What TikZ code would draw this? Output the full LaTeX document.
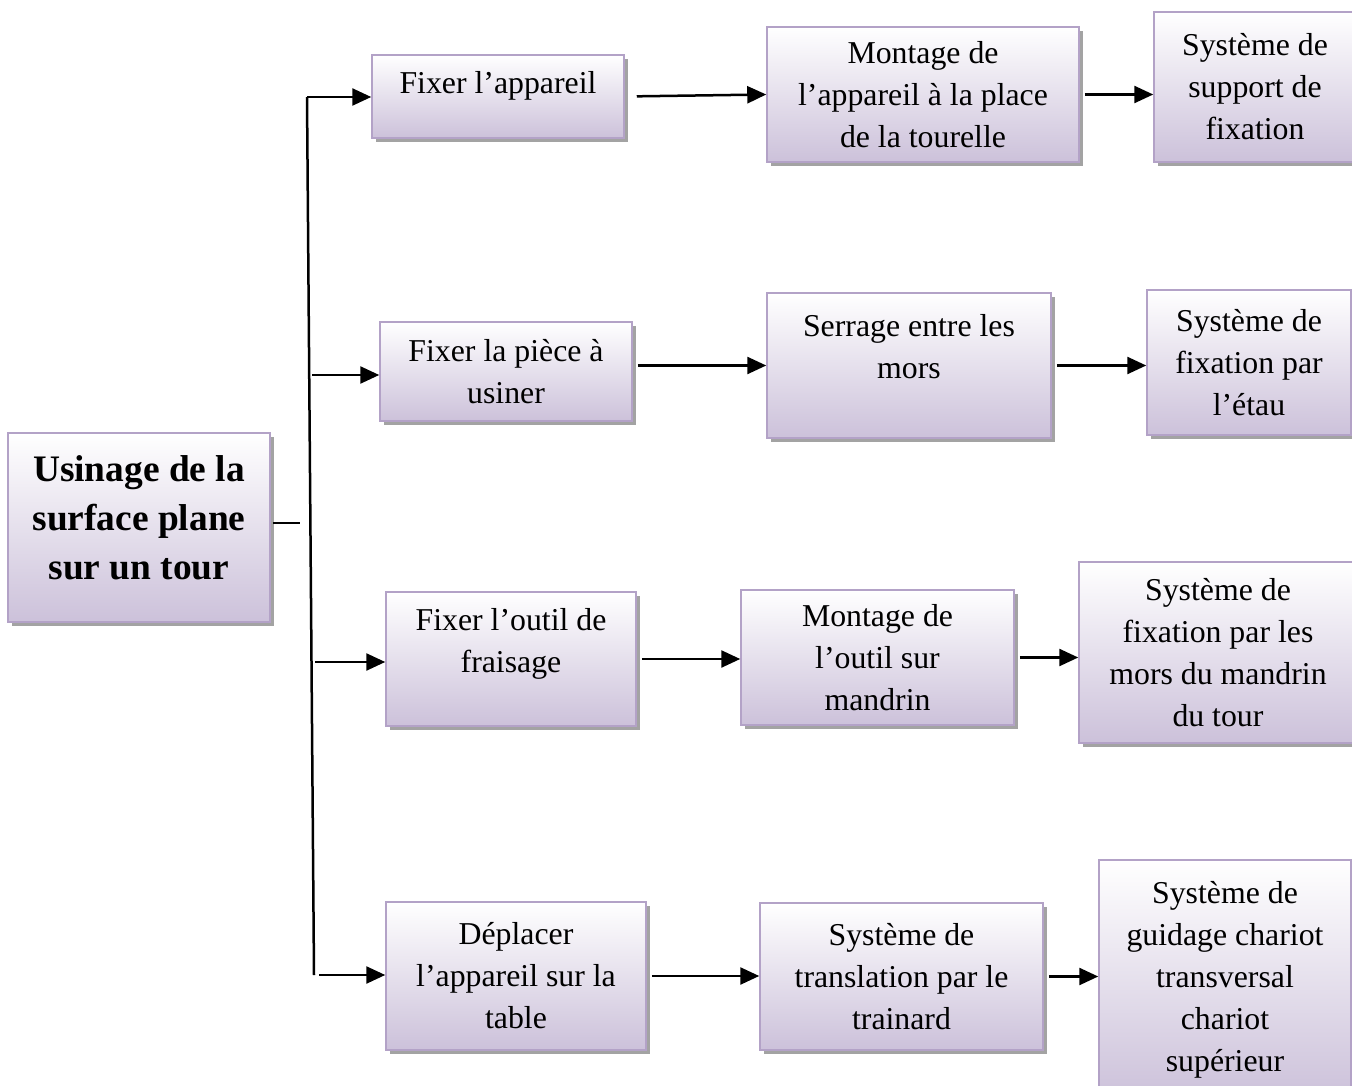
\documentclass[tikz,border=0pt]{standalone}
\usepackage{fontspec}
\setmainfont{Liberation Serif}
\usepackage{tikz}
\usetikzlibrary{arrows.meta,shadows}
\definecolor{boxline}{HTML}{B3A2C7}
\definecolor{boxfill}{HTML}{CCC1DA}

\begin{document}
\begin{tikzpicture}[x=1pt, y=-1pt,
    box/.style={draw=boxline, line width=1.5pt, top color=white, bottom color=boxfill,
      drop shadow={shadow xshift=4pt, shadow yshift=-4pt, fill=black!40, opacity=0.9},
      align=center, inner sep=0pt, font=\fontsize{31.8}{42}\selectfont},
    wire/.style={line width=2.5pt},
    arr/.style={wire, -{Triangle[length=19pt,width=17pt]}, shorten <=5pt}]
    \useasboundingbox (0,0) rectangle (1352,1086);
    % main task
    \node[box, minimum width=262pt, minimum height=189pt,
      font=\bfseries\fontsize{37.4}{49}\selectfont] (main) at (139,527.5)
      {Usinage de la\\surface plane\\sur un tour\\[-29pt]\mbox{}};
    % functions
    \node[box, minimum width=252pt, minimum height=83pt] (f1) at (498,96.5)
      {Fixer l’appareil\\[-13pt]\mbox{}};
    \node[box, minimum width=252pt, minimum height=99pt] (f2) at (506,371.5)
      {Fixer la pièce à\\usiner};
    \node[box, minimum width=250pt, minimum height=134pt] (f3) at (511,659)
      {Fixer l’outil de\\fraisage\\[-5pt]\mbox{}};
    \node[box, minimum width=260pt, minimum height=148pt] (f4) at (516,976)
      {Déplacer\\l’appareil sur la\\table};
    % solutions
    \node[box, minimum width=312pt, minimum height=135pt] (s1) at (923,94.5)
      {Montage de\\l’appareil à la place\\de la tourelle};
    \node[box, minimum width=284pt, minimum height=145pt] (s2) at (909,365.5)
      {Serrage entre les\\mors\\[-4pt]\mbox{}};
    \node[box, minimum width=273pt, minimum height=135pt] (s3) at (877.5,657.5)
      {Montage de\\l’outil sur\\mandrin};
    \node[box, minimum width=283pt, minimum height=147pt] (s4) at (901.5,976.5)
      {Système de\\translation par le\\trainard};
    % systems
    \node[box, minimum width=202pt, minimum height=150pt] (m1) at (1255,87)
      {Système de\\support de\\fixation};
    \node[box, minimum width=204pt, minimum height=145pt] (m2) at (1249,362.5)
      {Système de\\fixation par\\l’étau};
    \node[box, minimum width=278pt, minimum height=181pt] (m3) at (1218,652.5)
      {Système de\\fixation par les\\mors du mandrin\\du tour};
    \node[box, minimum width=252pt, minimum height=240pt] (m4) at (1225,980)
      {Système de\\guidage chariot\\transversal\\chariot\\supérieur};
    % trunk
    \coordinate (stub) at (300,523);
    \coordinate (t1) at (307,97);
    \coordinate (t2) at (312,375);
    \coordinate (t3) at (315,662);
    \coordinate (t4) at (314,975);
    \draw[wire] ([xshift=2pt]main.east |- stub) -- (stub);
    \draw[wire] (t1) -- (t4);
    \draw[arr, shorten <=0pt] (t1) -- (f1.west |- t1);
    \draw[arr, shorten <=0pt] (t2) -- (f2.west |- t2);
    \draw[arr, shorten <=0pt] (t3) -- (f3.west |- t3);
    \draw[arr] (t4) -- (f4.west |- t4);
    % rows
    \draw[arr, shorten <=12pt] (f1.east) -- (s1.west);
    \draw[arr] (s2.west -| f2.east) -- (s2.west);
    \draw[arr] (f3.east) -- (f3.east -| s3.west);
    \draw[arr] (f4.east) -- (f4.east -| s4.west);
    \draw[arr] (s1.east) -- (s1.east -| m1.west);
    \draw[arr] (s2.east) -- (s2.east -| m2.west);
    \draw[arr] (s3.east) -- (s3.east -| m3.west);
    \draw[arr] (s4.east) -- (s4.east -| m4.west);
\end{tikzpicture}
\end{document}
